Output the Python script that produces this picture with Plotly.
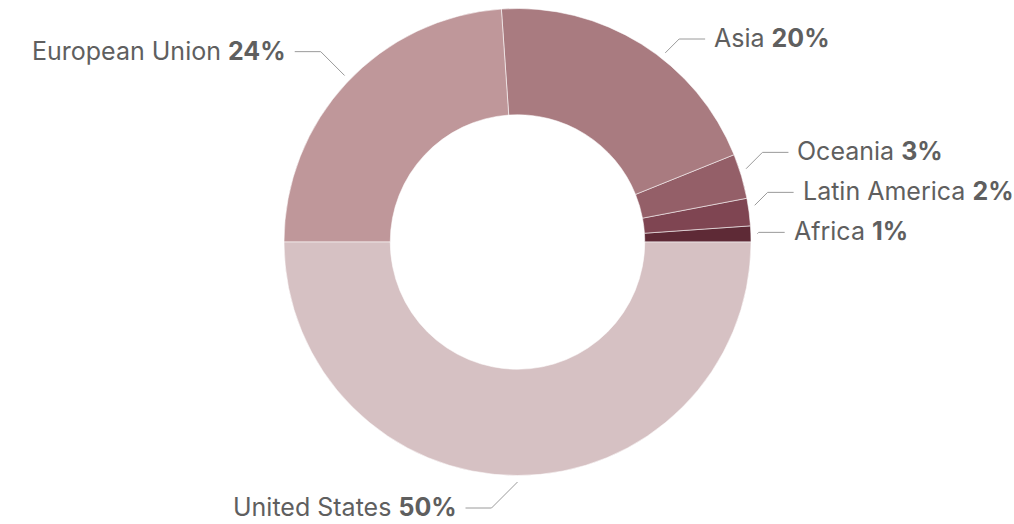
import math
import plotly.graph_objects as go

# ---------------- data ----------------
regions = ["Africa", "Latin America", "Oceania", "Asia", "European Union", "United States"]
shares = [1.1, 1.9, 3.1, 20.0, 23.9, 50.0]
colors = ["#5e2a36", "#7f4552", "#945f68", "#a97b80", "#bf979a", "#d6c1c3"]

# ---------------- layout constants ----------------
W, H = 1014, 524
CX, CY, R = 517.5, 242.0, 233.5
HOLE = 0.545
FONT = "Inter"
FSIZE = 25
TXT = "#5f5f5f"
LINE = "#9a9a9a"

total = sum(shares)
# plotly (counterclockwise) places the END of the first slice at `rotation`;
# shift so the first slice starts exactly at 3 o'clock
rotation = 90 - 360.0 * shares[0] / total

fig = go.Figure()

fig.add_trace(go.Pie(
    labels=regions, values=shares, sort=False, direction="counterclockwise",
    rotation=rotation, hole=HOLE, textinfo="none", hoverinfo="skip",
    marker=dict(colors=colors, line=dict(color="rgba(255,255,255,0.55)", width=1)),
    domain=dict(x=[(CX - R) / W, (CX + R) / W], y=[1 - (CY + R) / H, 1 - (CY - R) / H]),
    showlegend=False,
))

# ---------------- label layout (computed from data) ----------------
cum = 0.0
mids = []
for v in shares:
    mids.append(360.0 * (cum + v / 2) / total)
    cum += v

R_LAB, R_ELB, R_START = 279.0, 265.0, 240.0
SPACING, YMIN, YMAX = 40.0, 39.0, 508.0
HSEG, GAP, SLOPE, CLAMP = 26.0, 7.0, 1.0, 2.0

items = []
for name, v, th in zip(regions, shares, mids):
    t = math.radians(th)
    side = 1 if math.cos(t) > 1e-9 else -1
    items.append(dict(name=name, v=v, th=th, side=side, yn=CY - R_LAB * math.sin(t)))

for side in (1, -1):
    grp = sorted([it for it in items if it["side"] == side], key=lambda d: -d["yn"])
    prev = None
    for it in grp:
        y = it["yn"] if prev is None else min(it["yn"], prev - SPACING)
        y = max(YMIN, min(YMAX, y))
        it["y"] = y
        prev = y

annotations = []
for it in items:
    side, L, th = it["side"], it["y"], it["th"]
    s = max(-1.0, min(1.0, (CY - L) / R_ELB))
    psi = math.degrees(math.asin(s))
    if side < 0:
        psi = 180 - psi
    phi = max(psi - CLAMP, min(psi + CLAMP, th))
    p = math.radians(phi)
    sx, sy = CX + R_START * math.cos(p), CY - R_START * math.sin(p)
    ex = sx + side * abs(L - sy) * SLOPE
    endx = ex + side * HSEG
    fig.add_trace(go.Scatter(x=[sx, ex, endx], y=[sy, L, L], mode="lines",
                             line=dict(color=LINE, width=1), hoverinfo="skip",
                             showlegend=False))
    annotations.append(dict(
        x=endx + side * GAP, y=L - 1, xref="x", yref="y",
        xanchor="left" if side > 0 else "right", yanchor="middle",
        text=f"{it['name']} <b>{round(it['v'])}%</b>", showarrow=False,
        font=dict(family=FONT, size=FSIZE, color=TXT),
    ))

fig.update_layout(
    width=W, height=H, autosize=False,
    margin=dict(l=0, r=0, t=0, b=0),
    paper_bgcolor="white", plot_bgcolor="rgba(0,0,0,0)",
    xaxis=dict(range=[0, W], visible=False, fixedrange=True),
    yaxis=dict(range=[H, 0], visible=False, fixedrange=True),
    annotations=annotations,
)

fig.write_html("out.html", config={"displayModeBar": False},
               post_script="document.body.style.margin='0px';document.body.style.overflow='hidden';")
